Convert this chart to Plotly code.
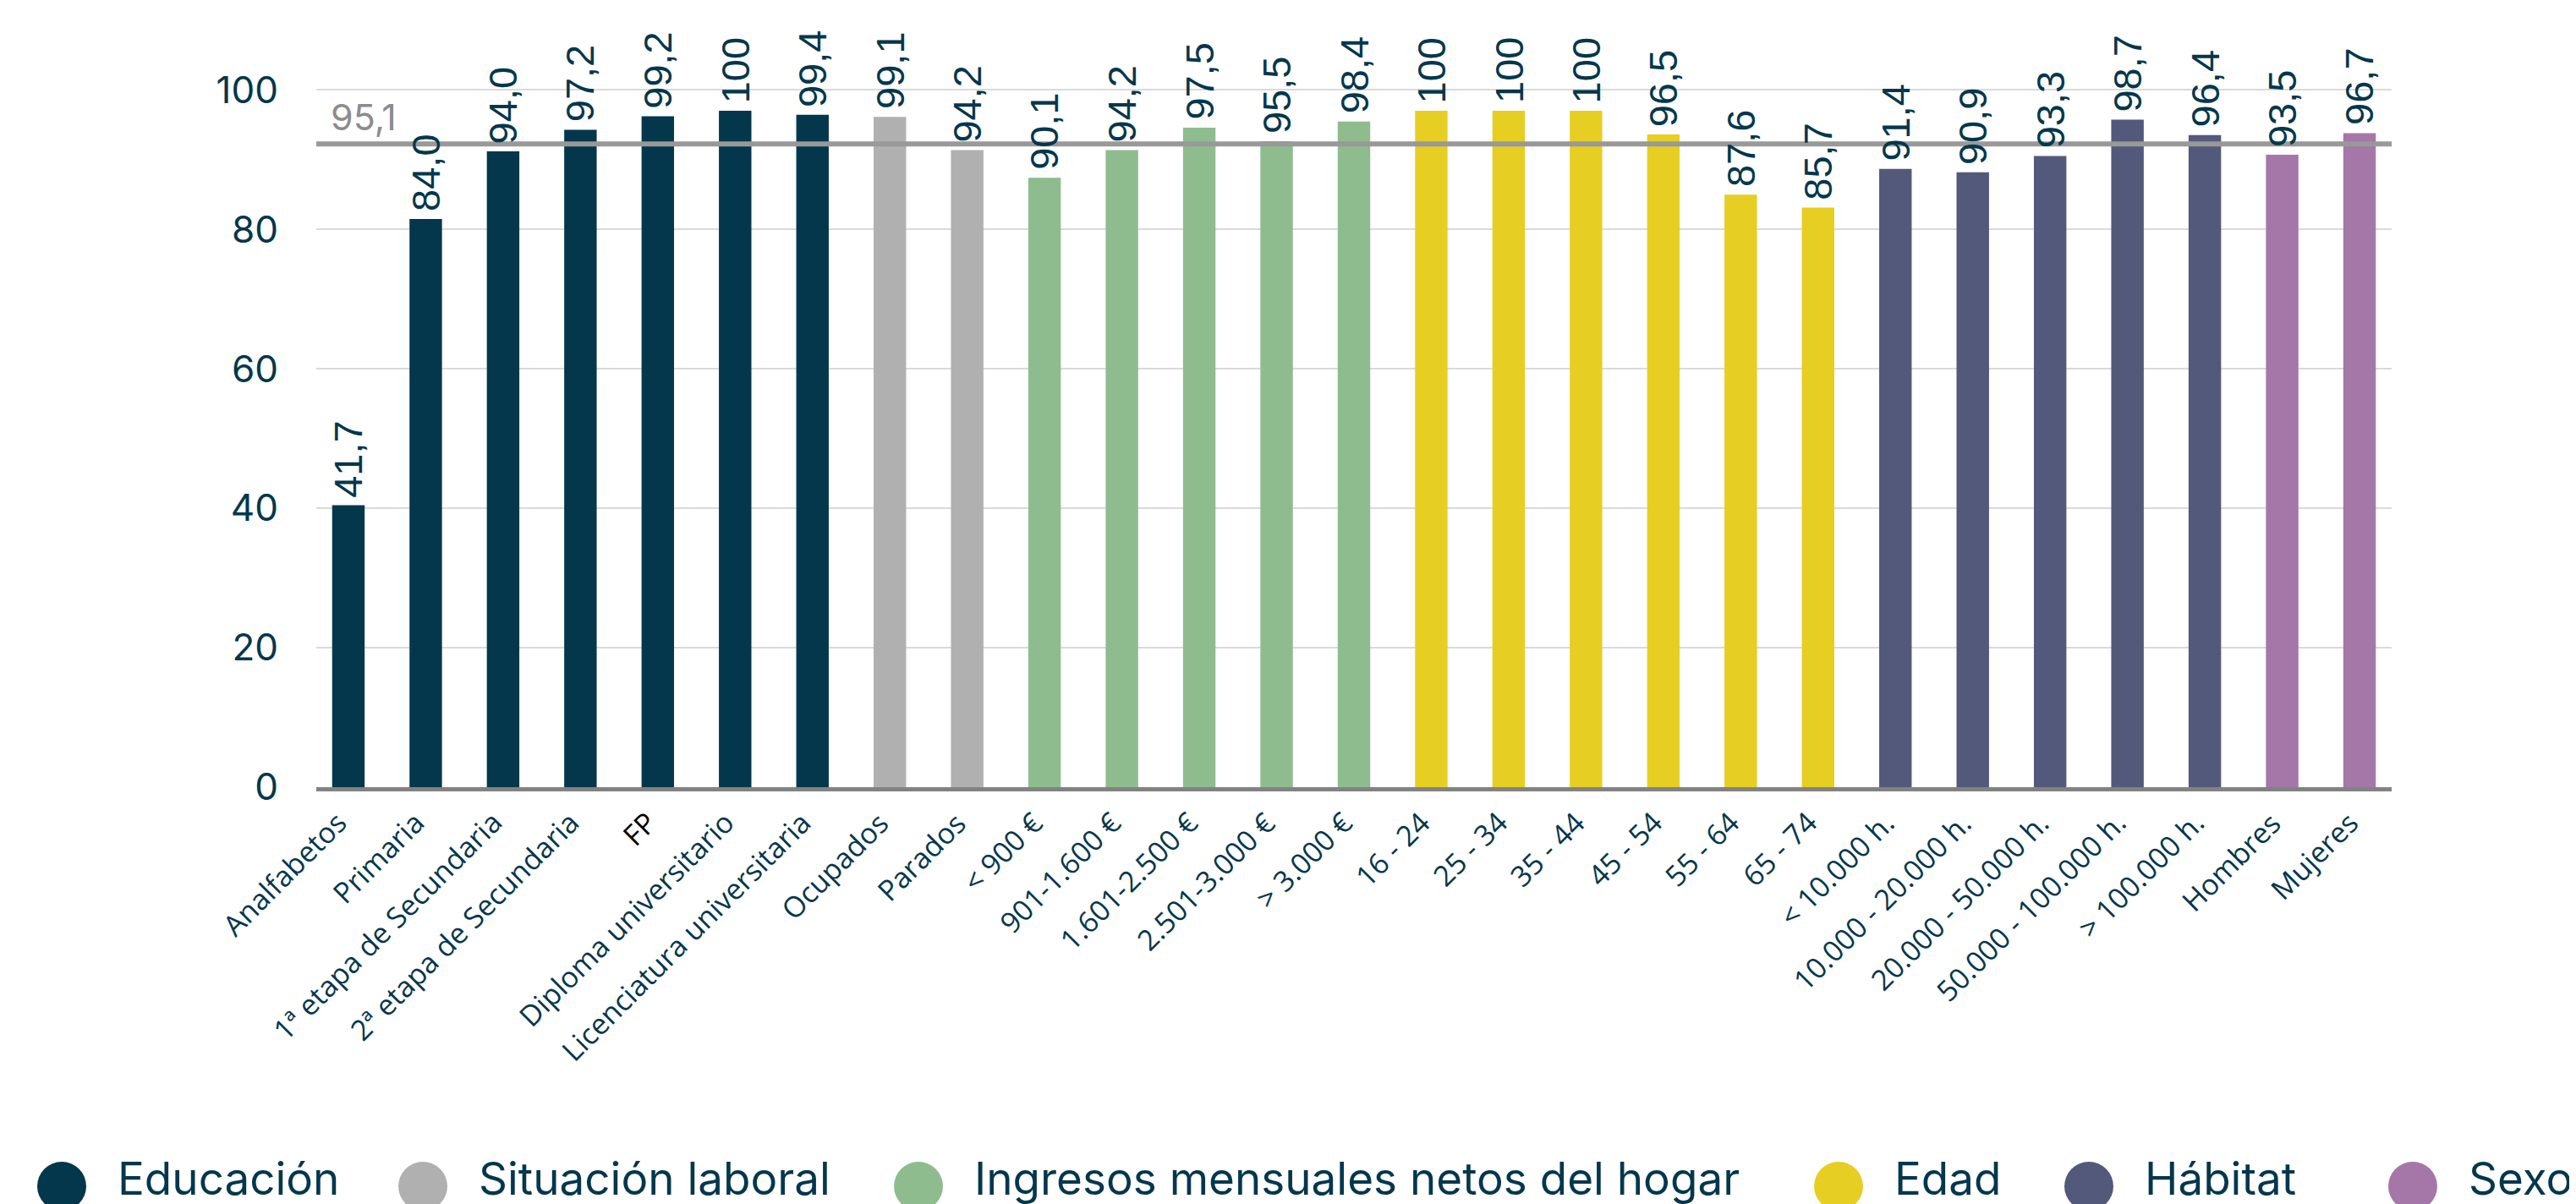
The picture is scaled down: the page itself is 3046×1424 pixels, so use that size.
import plotly.graph_objects as go

# ---------------- data ----------------
CATEGORIES = [
    "Analfabetos", "Primaria", "1ª etapa de Secundaria", "2ª etapa de Secundaria", "FP",
    "Diploma universitario", "Licenciatura universitaria",
    "Ocupados", "Parados",
    "< 900 €", "901-1.600 €", "1.601-2.500 €", "2.501-3.000 €", "> 3.000 €",
    "16 - 24", "25 - 34", "35 - 44", "45 - 54", "55 - 64", "65 - 74",
    "< 10.000 h.", "10.000 - 20.000 h.", "20.000 - 50.000 h.", "50.000 - 100.000 h.", "> 100.000 h.",
    "Hombres", "Mujeres",
]
VALUES = [
    41.7, 84.0, 94.0, 97.2, 99.2, 100, 99.4,
    99.1, 94.2,
    90.1, 94.2, 97.5, 95.5, 98.4,
    100, 100, 100, 96.5, 87.6, 85.7,
    91.4, 90.9, 93.3, 98.7, 96.4,
    93.5, 96.7,
]
GROUP_OF = [0] * 7 + [1] * 2 + [2] * 5 + [3] * 6 + [4] * 5 + [5] * 2
GROUPS = ["Educación", "Situación laboral", "Ingresos mensuales netos del hogar",
          "Edad", "Hábitat", "Sexo"]
GROUP_COLORS = ["#05374C", "#B0B0B0", "#8EBC8E", "#E7CE22", "#52597B", "#A577A8"]
AVERAGE = 95.1
AVERAGE_LABEL = "95,1"
Y_TICKS = [0, 20, 40, 60, 80, 100]

# ---------------- style ----------------
TEXT_COLOR = "#05374C"
W, H = 3046, 1424
ML, MR, MT, MB = 366, 226, 30, 501
PX_PER_UNIT = 8.0               # bar scale
GRID_SCALE = 1.031              # gridlines of the source sit slightly above nominal values
plot_h = H - MT - MB
plot_bottom = H - MB


def fmt(v):
    return "100" if v == 100 else f"{v:.1f}".replace(".", ",")


fig = go.Figure()
fig.add_trace(go.Bar(
    x=CATEGORIES,
    y=VALUES,
    marker=dict(color=[GROUP_COLORS[g] for g in GROUP_OF], line=dict(width=0)),
    width=0.42,
    showlegend=False,
    hoverinfo="skip",
))

annotations = []
# value labels
for c, v in zip(CATEGORIES, VALUES):
    annotations.append(dict(
        x=c, y=v, xref="x", yref="y", text=fmt(v), textangle=-90,
        showarrow=False, xanchor="center", yanchor="bottom", yshift=8,
        font=dict(family="Liberation Sans, Arial", size=47, color=TEXT_COLOR),
        borderpad=0,
    ))

# category labels (rotated)
for c in CATEGORIES:
    annotations.append(dict(
        x=c, y=0, xref="x", yref="y", text=c, textangle=-45,
        showarrow=False, xanchor="right", yanchor="top", xshift=9, yshift=-18,
        font=dict(family="Open Sans", size=34,
                  color="#000000" if c == "FP" else TEXT_COLOR),
        borderpad=0,
    ))

# average line + label
fig.add_shape(type="line", xref="paper", yref="y", x0=0, x1=1, y0=AVERAGE, y1=AVERAGE,
              line=dict(color="#999999", width=6), layer="above")
annotations.append(dict(
    x=0, y=AVERAGE, xref="paper", yref="y", text=AVERAGE_LABEL, showarrow=False,
    xanchor="left", yanchor="bottom", xshift=16, yshift=5,
    font=dict(family="Inter", size=43, color="#8C8C8C"), borderpad=0,
))

# custom legend (large circles)
LEG_CIRCLE_X = [65, 492, 1078, 2166, 2462, 2845]
LEG_Y = 1395
for name, col, cx in zip(GROUPS, GROUP_COLORS, LEG_CIRCLE_X):
    fig.add_shape(type="circle", xref="paper", yref="paper",
                  xsizemode="pixel", ysizemode="pixel",
                  xanchor=0, yanchor=0,
                  x0=cx - ML - 29, x1=cx - ML + 29,
                  y0=-(LEG_Y - plot_bottom) - 29, y1=-(LEG_Y - plot_bottom) + 29,
                  fillcolor=col, line=dict(width=0), layer="above")
    annotations.append(dict(
        x=0, y=0, xref="paper", yref="paper", xshift=cx + 64 - ML,
        yshift=-(LEG_Y - 9 - plot_bottom), text=name, showarrow=False,
        xanchor="left", yanchor="middle",
        font=dict(family="Inter", size=53, color=TEXT_COLOR),
    ))

fig.update_layout(
    width=W, height=H,
    margin=dict(l=ML, r=MR, t=MT, b=MB, autoexpand=False),
    paper_bgcolor="white", plot_bgcolor="white",
    annotations=annotations,
    xaxis=dict(
        type="category",
        range=[-0.415, len(CATEGORIES) - 1 + 0.415],
        showticklabels=False,
        showline=True, linecolor="#828282", linewidth=5,
        showgrid=False, ticks="",
    ),
    yaxis=dict(
        range=[0, plot_h / PX_PER_UNIT],
        tickmode="array",
        tickvals=[t * GRID_SCALE for t in Y_TICKS],
        ticktext=[str(t) for t in Y_TICKS],
        tickfont=dict(family="Inter", size=44, color=TEXT_COLOR),
        showgrid=True, gridcolor="#DADADA", gridwidth=2,
        zeroline=False, showline=False, ticks="", ticklabelstandoff=44,
    ),
)

fig.write_html("out.html")
